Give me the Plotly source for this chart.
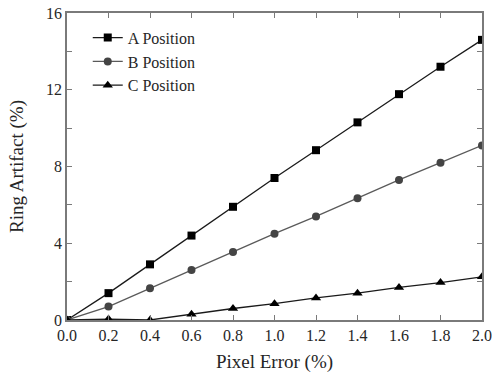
import plotly.graph_objects as go

pixel_error = [0.0, 0.2, 0.4, 0.6, 0.8, 1.0, 1.2, 1.4, 1.6, 1.8, 2.0]
a_position = [0.0, 1.4, 2.9, 4.4, 5.9, 7.4, 8.85, 10.3, 11.77, 13.2, 14.6]
b_position = [0.0, 0.7, 1.65, 2.6, 3.55, 4.5, 5.4, 6.35, 7.3, 8.2, 9.1]
c_position = [0.0, 0.05, 0.0, 0.3, 0.6, 0.85, 1.15, 1.4, 1.7, 1.95, 2.25]
x_ticks = [0.0, 0.2, 0.4, 0.6, 0.8, 1.0, 1.2, 1.4, 1.6, 1.8, 2.0]
y_ticks = [0, 4, 8, 12, 16]

font_family = "Liberation Serif"
text_color = "#262626"

fig = go.Figure()
fig.add_trace(go.Scatter(x=pixel_error, y=a_position, name="A Position", mode="lines+markers",
                         line=dict(color="#1a1a1a", width=1.3),
                         marker=dict(symbol="square", size=8, color="#000000")))
fig.add_trace(go.Scatter(x=pixel_error, y=b_position, name="B Position", mode="lines+markers",
                         line=dict(color="#5a5a5a", width=1.3),
                         marker=dict(symbol="circle", size=8, color="#444444")))
fig.add_trace(go.Scatter(x=pixel_error, y=c_position, name="C Position", mode="lines+markers",
                         line=dict(color="#1a1a1a", width=1.3),
                         marker=dict(symbol="triangle-up", size=9, color="#000000")))

axis_common = dict(showline=True, linecolor="#7a7a7a", linewidth=1.5, mirror="ticks",
                   ticks="inside", ticklen=5, tickcolor="#7a7a7a", tickwidth=1,
                   showgrid=False, zeroline=False, automargin=False,
                   tickfont=dict(family=font_family, size=16, color=text_color))

fig.update_xaxes(range=[0, 2.0], tickvals=x_ticks, ticktext=[f"{v:.1f}" for v in x_ticks],
                 title=dict(text="Pixel Error (%)", font=dict(family=font_family, size=19, color=text_color), standoff=12),
                 **axis_common)
fig.update_yaxes(range=[0, 16], tickvals=y_ticks, ticktext=[str(v) for v in y_ticks],
                 minor=dict(dtick=2, ticks="inside", ticklen=5, tickcolor="#7a7a7a"),
                 title=dict(text="Ring Artifact (%)", font=dict(family=font_family, size=19, color=text_color), standoff=17),
                 **axis_common)

fig.update_layout(
    width=492, height=374,
    margin=dict(l=67, r=10, t=13, b=54),
    paper_bgcolor="white", plot_bgcolor="white",
    showlegend=True,
    legend=dict(x=0.05, y=0.975, xanchor="left", yanchor="top",
                bgcolor="rgba(0,0,0,0)", borderwidth=0,
                font=dict(family=font_family, size=16, color=text_color),
                tracegroupgap=0, itemwidth=30),
)

fig.write_html("out.html", config={"displayModeBar": False},
               post_script="document.body.style.margin='0';document.body.style.overflow='hidden';")
